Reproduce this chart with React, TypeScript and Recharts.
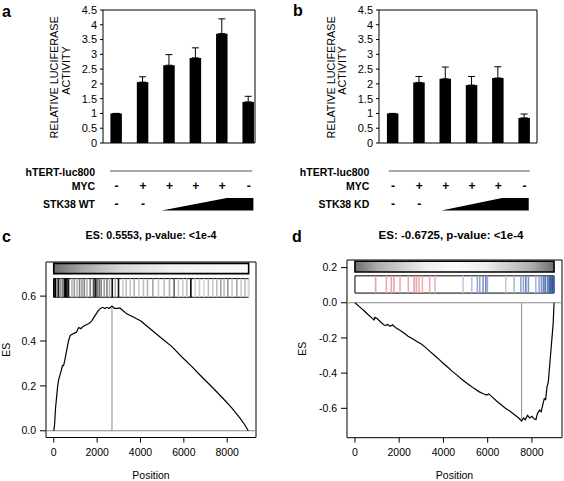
import React from 'react';
import {
  BarChart,
  Bar,
  ErrorBar,
  LineChart,
  Line,
  XAxis,
  YAxis,
  ReferenceArea,
  ReferenceLine,
} from 'recharts';

const FONT = '"Liberation Sans", Arial, Helvetica, sans-serif';

// --- luciferase assays (panels a, b) ---
const lanes = [1, 2, 3, 4, 5, 6];
const activityTicks = [0, 0.5, 1, 1.5, 2, 2.5, 3, 3.5, 4, 4.5];
const wtActivity = [1, 2.06, 2.63, 2.88, 3.7, 1.39];
const wtError = [0, 0.18, 0.36, 0.34, 0.5, 0.19];
const kdActivity = [1, 2.05, 2.17, 1.96, 2.2, 0.85];
const kdError = [0, 0.2, 0.4, 0.29, 0.38, 0.13];
const mycSigns = ['-', '+', '+', '+', '+', '-'];
const stkSigns = ['-', '-', '', '', '', ''];

// --- GSEA running enrichment score (panels c, d) ---
const positionTicks = [0, 2000, 4000, 6000, 8000];
const esTicksC = [0, 0.2, 0.4, 0.6];
const esTicksD = [-0.6, -0.4, -0.2, 0, 0.2];

const posC = [
  0, 40, 80, 130, 180, 230, 290, 350, 400, 450, 500, 560, 620, 680, 760, 850, 950, 1050, 1150, 1250,
  1350, 1450, 1550, 1650, 1750, 1850, 1950, 2050, 2150, 2250, 2350, 2450, 2550, 2685, 2800, 2950,
  3050, 3200, 3350, 3500, 3650, 3800, 4000, 4250, 4500, 4750, 5000, 5450, 5900, 6350, 6800, 7300,
  7800, 8200, 8600, 8800, 8975,
];
const esC = [
  0, 0.03, 0.1, 0.15, 0.2, 0.23, 0.25, 0.27, 0.29, 0.29, 0.31, 0.34, 0.37, 0.4, 0.425, 0.43, 0.435,
  0.44, 0.46, 0.455, 0.465, 0.47, 0.475, 0.48, 0.49, 0.505, 0.52, 0.535, 0.545, 0.55, 0.545, 0.55,
  0.545, 0.5553, 0.545, 0.545, 0.547, 0.535, 0.522, 0.515, 0.508, 0.5, 0.49, 0.47, 0.45, 0.43, 0.41,
  0.375, 0.33, 0.288, 0.243, 0.195, 0.145, 0.103, 0.055, 0.028, 0,
];
const hitsC = [
  0, 69, 147, 221, 300, 392, 484, 544, 608, 682, 839, 945, 1069, 1189, 1300, 1406, 1530, 1682, 1834,
  1912, 1991, 2097, 2189, 2327, 2452, 2571, 2696, 2834, 2986, 3189, 3341, 3525, 3710, 3926, 4138,
  4323, 4571, 4830, 5092, 5336, 5553, 5751, 5954, 6138, 6323, 6521, 6719, 6935, 7134, 7336, 7521,
  7705, 7857, 8028, 8226, 8442, 8641, 8825, 8977,
];
const hitWeightC = [
  1, 1, 0.5, 0.9, 0.4, 0.5, 0.9, 1, 1, 0.9, 0.3, 0.4, 0.3, 0.5, 0.4, 0.5, 0.3, 0.5, 0.7, 0.9, 0.7,
  0.6, 0.5, 0.4, 0.5, 0.3, 0.95, 0.3, 0.95, 0.2, 0.25, 0.2, 0.3, 0.2, 0.25, 0.3, 0.35, 0.2, 0.25,
  0.3, 0.6, 0.2, 0.2, 0.25, 1, 0.15, 0.2, 0.15, 0.25, 0.2, 0.25, 0.35, 0.25, 0.4, 0.2, 0.35, 0.2,
  0.25, 0.15,
];

const posD = [
  0, 200, 400, 600, 800, 860, 900, 1000, 1150, 1300, 1400, 1480, 1560, 1650, 1700, 1780, 1900, 2050,
  2200, 2400, 2600, 2800, 3000, 3200, 3400, 3600, 3800, 4000, 4200, 4400, 4600, 4800, 5000, 5200,
  5400, 5600, 5800, 5950, 6050, 6200, 6400, 6600, 6800, 7000, 7200, 7400, 7534, 7620, 7700, 7800,
  7900, 8000, 8100, 8180, 8250, 8350, 8420, 8500, 8560, 8620, 8680, 8740, 8800, 8860, 8920, 8960,
  9000,
];
const esD = [
  0, -0.022, -0.044, -0.068, -0.09, -0.097, -0.083, -0.09, -0.108, -0.125, -0.13, -0.122, -0.133,
  -0.13, -0.125, -0.135, -0.147, -0.158, -0.17, -0.19, -0.205, -0.22, -0.235, -0.255, -0.278, -0.3,
  -0.322, -0.345, -0.367, -0.39, -0.41, -0.432, -0.452, -0.47, -0.488, -0.505, -0.517, -0.525,
  -0.518, -0.535, -0.558, -0.578, -0.6, -0.615, -0.635, -0.655, -0.6725, -0.655, -0.665, -0.64,
  -0.655, -0.645, -0.66, -0.665, -0.63, -0.61, -0.62, -0.575, -0.545, -0.55, -0.48, -0.45, -0.36,
  -0.27, -0.18, -0.12, 0,
];
const upHitsD = [935, 1418, 1644, 1765, 2036, 2413, 2670, 2775, 2896, 3047, 3380, 3620];
const upWeightD = [0.45, 0.4, 0.45, 0.45, 0.4, 0.4, 0.45, 0.45, 0.4, 0.4, 0.4, 0.35];
const downHitsD = [
  4887, 5281, 5534, 5643, 5792, 5914, 5986, 6819, 7195, 7498, 7615, 7724, 7842, 8176, 8326, 8430,
  8520, 8597, 8701, 8778, 8837, 8882, 8927, 8973,
];
const downWeightD = [
  0.3, 0.35, 0.5, 0.5, 0.6, 0.7, 0.5, 0.3, 0.4, 0.5, 0.5, 0.7, 0.6, 0.4, 0.5, 0.6, 0.7, 0.8, 0.7,
  0.9, 0.9, 0.8, 1, 0.9,
];

// blend a base colour towards white by hit weight
function tint(rgb: [number, number, number], w: number) {
  const c = rgb.map((v) => Math.round(255 - w * (255 - v)));
  return `rgb(${c[0]},${c[1]},${c[2]})`;
}

type LucCfg = {
  values: number[];
  errors: number[];
  stkLabel: string;
  left: number;
  right: number;
  domain: [number, number];
  labelGap: number;
  lineLead: number;
  lineTail: number;
  wedgeLead: number;
  wedgeTop: number;
  wedgeTail: number;
  yLab: [number, number];
};

const LUC_W = 282;
const LUC_H = 220;
const LUC_TOP = 10;
const LUC_AXIS_H = 77;

function LuciferasePanel({ cfg }: { cfg: LucCfg }) {
  const plotW = LUC_W - cfg.left - cfg.right;
  const step = plotW / (cfg.domain[1] - cfg.domain[0]);
  const rows = lanes.map((lane, i) => ({
    lane,
    activity: cfg.values[i],
    err: [0, cfg.errors[i]],
  }));

  const renderTick = (p: any) => {
    const { x, y, index } = p;
    const last = lanes.length - 1;
    return (
      <g fill="#000" fontFamily={FONT}>
        <text x={x} y={y + 43} textAnchor="middle" dominantBaseline="central" fontSize={12} fontWeight="bold">
          {mycSigns[index]}
        </text>
        {stkSigns[index] && (
          <text x={x} y={y + 60.5} textAnchor="middle" dominantBaseline="central" fontSize={12} fontWeight="bold">
            {stkSigns[index]}
          </text>
        )}
        {index === 0 && (
          <g>
            <text x={x - cfg.labelGap} y={y + 28.5} textAnchor="end" dominantBaseline="central" fontSize={10.5} fontWeight="bold">
              hTERT-luc800
            </text>
            <line
              x1={x - cfg.lineLead}
              x2={x + last * step + cfg.lineTail}
              y1={y + 28}
              y2={y + 28}
              stroke="#555"
              strokeWidth={1}
            />
            <text x={x - cfg.labelGap} y={y + 43} textAnchor="end" dominantBaseline="central" fontSize={10.5} fontWeight="bold">
              MYC
            </text>
            <text x={x - cfg.labelGap} y={y + 60.5} textAnchor="end" dominantBaseline="central" fontSize={10.5} fontWeight="bold">
              {cfg.stkLabel}
            </text>
          </g>
        )}
        {index === last && (
          <polygon
            points={[
              `${x - 3 * step - cfg.wedgeLead},${y + 67.5}`,
              `${x - step + cfg.wedgeTop},${y + 55}`,
              `${x + cfg.wedgeTail},${y + 55}`,
              `${x + cfg.wedgeTail},${y + 67.5}`,
            ].join(' ')}
            fill="#000"
          />
        )}
      </g>
    );
  };

  const midY = LUC_TOP + (LUC_H - LUC_TOP - LUC_AXIS_H) / 2;
  const renderYLabel = () => (
    <g fill="#000" fontFamily={FONT} fontSize={10.8}>
      <text
        x={cfg.yLab[0]}
        y={midY + 1}
        textAnchor="middle"
        dominantBaseline="central"
        transform={`rotate(-90 ${cfg.yLab[0]} ${midY + 1})`}
      >
        RELATIVE LUCIFERASE
      </text>
      <text
        x={cfg.yLab[1]}
        y={midY - 6}
        textAnchor="middle"
        dominantBaseline="central"
        transform={`rotate(-90 ${cfg.yLab[1]} ${midY - 6})`}
      >
        ACTIVITY
      </text>
    </g>
  );

  return (
    <BarChart width={LUC_W} height={LUC_H} data={rows} margin={{ top: LUC_TOP, right: cfg.right, bottom: 0, left: 0 }}>
      <XAxis
        type="number"
        dataKey="lane"
        domain={cfg.domain}
        ticks={lanes}
        interval={0}
        allowDataOverflow
        axisLine={false}
        tickLine={false}
        tickSize={0}
        tickMargin={0}
        height={LUC_AXIS_H}
        tick={renderTick}
      />
      <YAxis
        type="number"
        domain={[0, 4.5]}
        ticks={activityTicks}
        interval={0}
        allowDataOverflow
        width={cfg.left}
        axisLine={false}
        tickSize={3}
        tickMargin={3}
        stroke="#000"
        tick={{ fill: '#000', fontSize: 11 }}
        label={renderYLabel}
      />
      <ReferenceArea
        x1={cfg.domain[0]}
        x2={cfg.domain[1]}
        y1={0}
        y2={4.5}
        fill="none"
        stroke="#000"
        strokeWidth={1}
        ifOverflow="visible"
      />
      <Bar dataKey="activity" fill="#000" barSize={11.5} isAnimationActive={false}>
        <ErrorBar dataKey="err" width={3.5} stroke="#000" strokeWidth={1} direction="y" isAnimationActive={false} />
      </Bar>
    </BarChart>
  );
}

type GseaCfg = {
  id: string;
  pos: number[];
  es: number[];
  yTicks: number[];
  xDomain: [number, number];
  yDomain: [number, number];
  top: number;
  bottom: number;
  left: number;
  right: number;
  end: number;
  gradY: [number, number];
  codeY: [number, number];
  stops: [number, string][];
  hits: { pos: number[]; weight: number[]; rgb: [number, number, number] }[];
  peak: { pos: number; es: number };
  esLab: number;
};

const G_W = 282;
const G_H = 261;

function GseaPanel({ cfg }: { cfg: GseaCfg }) {
  const rows = cfg.pos.map((pos, i) => ({ pos, es: cfg.es[i] }));
  const plotMidX = cfg.left + (G_W - cfg.left - cfg.right) / 2;
  const plotMidY = cfg.top + (G_H - cfg.top - cfg.bottom) / 2;

  const renderES = () => (
    <text
      x={cfg.esLab}
      y={plotMidY}
      textAnchor="middle"
      dominantBaseline="central"
      fontSize={10.5}
      fill="#000"
      fontFamily={FONT}
      transform={`rotate(-90 ${cfg.esLab} ${plotMidY})`}
    >
      ES
    </text>
  );
  const renderPos = () => (
    <text x={plotMidX} y={G_H - 6} textAnchor="middle" dominantBaseline="central" fontSize={10.5} fill="#000" fontFamily={FONT}>
      Position
    </text>
  );

  return (
    <LineChart width={G_W} height={G_H} data={rows} margin={{ top: cfg.top, right: cfg.right, bottom: 0, left: 0 }}>
      <defs>
        <linearGradient id={cfg.id} x1="0" y1="0" x2="1" y2="0">
          {cfg.stops.map(([o, c]) => (
            <stop key={o} offset={o} stopColor={c} />
          ))}
        </linearGradient>
      </defs>
      <XAxis
        type="number"
        dataKey="pos"
        domain={cfg.xDomain}
        ticks={positionTicks}
        interval={0}
        allowDataOverflow
        axisLine={false}
        tickSize={5}
        tickMargin={6}
        stroke="#000"
        height={cfg.bottom}
        tick={{ fill: '#000', fontSize: 10.5 }}
        label={renderPos}
      />
      <YAxis
        type="number"
        domain={cfg.yDomain}
        ticks={cfg.yTicks}
        interval={0}
        allowDataOverflow
        width={cfg.left}
        axisLine={false}
        tickSize={6}
        tickMargin={4}
        stroke="#000"
        tick={{ fill: '#000', fontSize: 10.5 }}
        tickFormatter={(v: number) => v.toFixed(1)}
        label={renderES}
      />
      <ReferenceArea
        x1={cfg.xDomain[0]}
        x2={cfg.xDomain[1]}
        y1={cfg.yDomain[0]}
        y2={cfg.yDomain[1]}
        fill="none"
        stroke="#000"
        strokeWidth={1}
        ifOverflow="visible"
      />
      <ReferenceLine y={0} stroke="#8a8a8a" strokeWidth={1} ifOverflow="visible" />
      <ReferenceArea
        x1={0}
        x2={cfg.end}
        y1={cfg.gradY[0]}
        y2={cfg.gradY[1]}
        fill={`url(#${cfg.id})`}
        fillOpacity={1}
        stroke="#000"
        strokeWidth={1.6}
        ifOverflow="visible"
      />
      {cfg.hits.map((set) =>
        set.pos.map((p, i) => (
          <ReferenceLine
            key={`${set.rgb.join('-')}-${p}`}
            segment={[
              { x: p, y: cfg.codeY[0] },
              { x: p, y: cfg.codeY[1] },
            ]}
            stroke={tint(set.rgb, set.weight[i])}
            strokeWidth={1.6}
            ifOverflow="visible"
          />
        )),
      )}
      <ReferenceArea
        x1={0}
        x2={cfg.end}
        y1={cfg.codeY[0]}
        y2={cfg.codeY[1]}
        fill="none"
        stroke="#000"
        strokeWidth={1}
        ifOverflow="visible"
      />
      <ReferenceLine
        segment={[
          { x: cfg.peak.pos, y: 0 },
          { x: cfg.peak.pos, y: cfg.peak.es },
        ]}
        stroke="#8a8a8a"
        strokeWidth={1}
        ifOverflow="visible"
      />
      <Line type="linear" dataKey="es" stroke="#000" strokeWidth={1.2} dot={false} isAnimationActive={false} />
    </LineChart>
  );
}

const panelA: LucCfg = {
  values: wtActivity,
  errors: wtError,
  stkLabel: 'STK38 WT',
  left: 103,
  right: 27,
  domain: [0.485, 6.24],
  labelGap: 21.6,
  lineLead: 6.6,
  lineTail: 3.6,
  wedgeLead: 7.7,
  wedgeTop: 4.5,
  wedgeTail: 4.7,
  yLab: [54, 66],
};

const panelB: LucCfg = {
  values: kdActivity,
  errors: kdError,
  stkLabel: 'STK38 KD',
  left: 97,
  right: 27,
  domain: [0.465, 6.474],
  labelGap: 23.8,
  lineLead: 4.4,
  lineTail: 5.2,
  wedgeLead: 4.3,
  wedgeTop: 3.8,
  wedgeTail: 4.2,
  yLab: [49.3, 60],
};

const panelC: GseaCfg = {
  id: 'rankC',
  pos: posC,
  es: esC,
  yTicks: esTicksC,
  xDomain: [-359, 9329],
  yDomain: [-0.03, 0.752],
  top: 42,
  bottom: 43.5,
  left: 46,
  right: 26,
  end: 8990,
  gradY: [0.7, 0.746],
  codeY: [0.595, 0.678],
  stops: [
    [0, '#6e6e6e'],
    [0.15, '#a8a8a8'],
    [0.35, '#d8d8d8'],
    [0.6, '#f0f0f0'],
    [1, '#fbfbfb'],
  ],
  hits: [{ pos: hitsC, weight: hitWeightC, rgb: [0, 0, 0] }],
  peak: { pos: 2685, es: 0.5553 },
  esLab: 5.8,
};

const panelD: GseaCfg = {
  id: 'rankD',
  pos: posD,
  es: esD,
  yTicks: esTicksD,
  xDomain: [-360, 9360],
  yDomain: [-0.767, 0.243],
  top: 40,
  bottom: 43.3,
  left: 65,
  right: 2,
  end: 9000,
  gradY: [0.175, 0.236],
  codeY: [0.055, 0.153],
  stops: [
    [0, '#6e6e6e'],
    [0.12, '#b0b0b0'],
    [0.35, '#eeeeee'],
    [0.5, '#fafafa'],
    [0.65, '#eeeeee'],
    [0.88, '#b0b0b0'],
    [1, '#6e6e6e'],
  ],
  hits: [
    { pos: upHitsD, weight: upWeightD, rgb: [204, 51, 51] },
    { pos: downHitsD, weight: downWeightD, rgb: [42, 79, 158] },
  ],
  peak: { pos: 7534, es: -0.6725 },
  esLab: 20,
};

const box = (left: number, top: number, width: number, height: number): React.CSSProperties => ({
  position: 'absolute',
  left,
  top,
  width,
  height,
});

export default function App() {
  return (
    <div
      style={{
        position: 'absolute',
        left: 0,
        top: 0,
        width: 564,
        height: 481,
        background: '#fff',
        fontFamily: FONT,
        overflow: 'hidden',
      }}
    >
      <div style={box(0, 0, 282, 220)}>
        <LuciferasePanel cfg={panelA} />
      </div>
      <div style={box(282, 0, 282, 220)}>
        <LuciferasePanel cfg={panelB} />
      </div>
      <div style={box(0, 220, 282, 261)}>
        <GseaPanel cfg={panelC} />
      </div>
      <div style={box(282, 220, 282, 261)}>
        <GseaPanel cfg={panelD} />
      </div>
      <svg width={564} height={481} style={{ position: 'absolute', left: 0, top: 0, pointerEvents: 'none' }}>
        <g fill="#000" fontFamily={FONT} fontWeight="bold">
          <text x={2} y={16.5} fontSize={16}>a</text>
          <text x={293} y={16} fontSize={16}>b</text>
          <text x={2} y={242} fontSize={16}>c</text>
          <text x={292} y={242} fontSize={16}>d</text>
          <text x={151} y={239} fontSize={10.7} textAnchor="middle">ES: 0.5553, p-value: &lt;1e-4</text>
          <text x={451} y={239} fontSize={11.5} textAnchor="middle">ES: -0.6725, p-value: &lt;1e-4</text>
        </g>
      </svg>
    </div>
  );
}
